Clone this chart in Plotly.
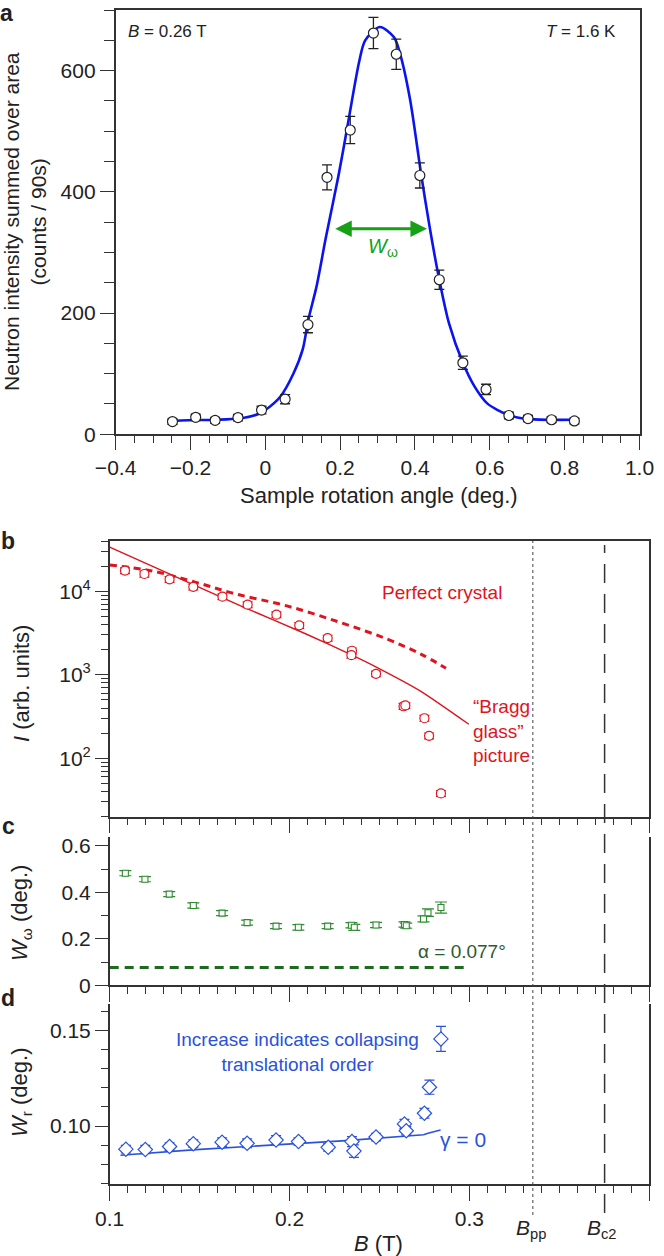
import plotly.graph_objects as go

W, H = 664, 1256
FONT = "Liberation Sans, Arial, Helvetica, sans-serif"

# ---------------- data: panel a ----------------
angle = [-0.248, -0.186, -0.134, -0.073, -0.010, 0.053, 0.114, 0.165, 0.227, 0.289,
         0.350, 0.413, 0.465, 0.528, 0.590, 0.651, 0.702, 0.765, 0.826]
counts = [21, 28, 23, 27.5, 40, 58, 181, 424, 502, 662,
          627, 427, 255, 118, 74, 31, 26, 24, 22]
counts_err = [4.6, 5.3, 4.8, 5.2, 6.3, 7.6, 13.5, 20.6, 22.4, 25.7,
              25.0, 20.7, 16.0, 10.9, 8.6, 5.6, 5.1, 4.9, 4.7]
fit_angle = [-0.25, -0.18, -0.13, -0.07, -0.02, 0.0, 0.04, 0.075, 0.10, 0.115, 0.137,
             0.162, 0.196, 0.219, 0.251, 0.267, 0.306, 0.344, 0.361, 0.387, 0.417,
             0.440, 0.465, 0.491, 0.528, 0.559, 0.593, 0.649, 0.706, 0.83]
fit_counts = [22, 23.5, 24, 26, 33, 40, 62, 100, 140, 189, 244,
              325, 428, 506, 615, 650, 672, 655, 626, 552, 427,
              339, 255, 183, 118, 79, 51, 32, 25, 24]
fwhm_ends = [0.183, 0.432]
fwhm_level = 339
a_xticks = [-0.4, -0.2, 0, 0.2, 0.4, 0.6, 0.8, 1.0]
a_xlabels = ["\u22120.4", "\u22120.2", "0", "0.2", "0.4", "0.6", "0.8", "1.0"]
a_yticks = [0, 200, 400, 600]

# ---------------- data: panel b ----------------
B_pts = [0.1085, 0.1193, 0.1333, 0.1465, 0.1627, 0.1767, 0.1927, 0.2054, 0.2212,
         0.2347, 0.2344, 0.2481, 0.2634, 0.2644, 0.2750, 0.2776, 0.2842]
I_pts = [17700, 16100, 13900, 11300, 8630, 6920, 5250, 3910, 2754,
         1940, 1720, 1028, 420, 430, 302, 186, 38]
I_err = [1400, 1300, 1100, 900, 700, 550, 420, 310, 220,
         155, 140, 80, 34, 34, 24, 15, 3]
perfect_B = [0.1, 0.124, 0.148, 0.170, 0.198, 0.228, 0.254, 0.273, 0.287]
perfect_I = [20700, 17400, 12800, 9300, 6730, 4250, 2690, 1770, 1200]
bragg_B = [0.1, 0.1725, 0.2092, 0.2336, 0.2485, 0.2726, 0.2997]
bragg_I = [33700, 6730, 3080, 1770, 1230, 643, 256]
b_yticks = [100, 1000, 10000]
b_ylabels = ["10<sup>2</sup>", "10<sup>3</sup>", "10<sup>4</sup>"]

# ---------------- data: panel c ----------------
Wom_B = [0.1087, 0.1196, 0.1331, 0.1465, 0.1625, 0.1764, 0.1925, 0.2049, 0.2212,
         0.2344, 0.2360, 0.2481, 0.2639, 0.2649, 0.2745, 0.2770, 0.2842]
Wom = [0.483, 0.457, 0.393, 0.344, 0.311, 0.270, 0.255, 0.250, 0.255,
       0.259, 0.250, 0.260, 0.262, 0.257, 0.286, 0.313, 0.335]
Wom_err = [0.011, 0.011, 0.011, 0.011, 0.011, 0.011, 0.011, 0.012, 0.011,
           0.011, 0.013, 0.011, 0.011, 0.011, 0.013, 0.016, 0.024]
alpha_B = [0.1, 0.3]
alpha_val = [0.077, 0.077]
c_yticks = [0, 0.2, 0.4, 0.6]
c_ylabels = ["0", "0.2", "0.4", "0.6"]

# ---------------- data: panel d ----------------
Wr_B = [0.109, 0.1198, 0.1333, 0.1465, 0.1625, 0.1764, 0.1925, 0.205, 0.2215,
        0.2347, 0.2358, 0.2481, 0.2639, 0.2649, 0.275, 0.2778, 0.2842]
Wr = [0.0878, 0.0876, 0.0892, 0.0907, 0.0915, 0.0909, 0.0926, 0.0918, 0.0888,
      0.0918, 0.0868, 0.0942, 0.1011, 0.0975, 0.1067, 0.1204, 0.1458]
Wr_err = [0.0020, 0.0022, 0.0020, 0.0020, 0.0023, 0.0023, 0.0023, 0.0020, 0.0020,
          0.0026, 0.0033, 0.0020, 0.0024, 0.0022, 0.0026, 0.0037, 0.0066]
gamma_B = [0.106, 0.148, 0.2314, 0.2745, 0.2775, 0.2840]
gamma_W = [0.0846, 0.0876, 0.0923, 0.0954, 0.0963, 0.0979]
B_ticks = [0.1, 0.2, 0.3, 0.4]
B_labels = ["0.1", "0.2", "0.3", "0.4"]
d_yticks = [0.10, 0.15]
d_ylabels = ["0.10", "0.15"]
B_pp = 0.3353
B_c2 = 0.3752

# ---------------- colours ----------------
BLUE_FIT = "#0a14f0"
RED = "#e0141e"
GREEN = "#2f8a2f"
GREEN_ARROW = "#16a016"
GREEN_DARK = "#1f6a22"
GREEN_TEXT = "#2c5a2e"
BLUE = "#2a52dc"
AX = "#333333"


def fx(px):
    return px / W


def fy(py):
    return 1 - py / H


fig = go.Figure()

# panel a
fig.add_trace(go.Scatter(x=fit_angle, y=fit_counts, mode="lines",
                         line=dict(color=BLUE_FIT, width=2.6, shape="spline", smoothing=0.8),
                         xaxis="x", yaxis="y", showlegend=False, hoverinfo="skip"))
fig.add_trace(go.Scatter(x=angle, y=counts, mode="markers",
                         error_y=dict(type="data", array=counts_err, color="#222", thickness=1.3, width=5),
                         marker=dict(symbol="circle", size=10, color="white", line=dict(color="#222", width=1.2)),
                         xaxis="x", yaxis="y", showlegend=False))

# panel b
fig.add_trace(go.Scatter(x=perfect_B, y=perfect_I, mode="lines",
                         line=dict(color=RED, width=3, dash="7px,5px", shape="spline"),
                         xaxis="x2", yaxis="y2", showlegend=False))
fig.add_trace(go.Scatter(x=bragg_B, y=bragg_I, mode="lines",
                         line=dict(color=RED, width=1.4, shape="spline", smoothing=0.6),
                         xaxis="x2", yaxis="y2", showlegend=False))
fig.add_trace(go.Scatter(x=B_pts, y=I_pts, mode="markers",
                         error_y=dict(type="data", array=I_err, color=RED, thickness=1.2, width=5),
                         marker=dict(symbol="circle", size=9, color="white", line=dict(color=RED, width=1.2)),
                         xaxis="x2", yaxis="y2", showlegend=False))

# panel c
fig.add_trace(go.Scatter(x=alpha_B, y=alpha_val, mode="lines",
                         line=dict(color=GREEN_DARK, width=3, dash="9px,6px"),
                         xaxis="x3", yaxis="y3", showlegend=False))
fig.add_trace(go.Scatter(x=Wom_B, y=Wom, mode="markers",
                         error_y=dict(type="data", array=Wom_err, color=GREEN, thickness=1.2, width=6),
                         marker=dict(symbol="square", size=6, color="white", line=dict(color=GREEN, width=1.1)),
                         xaxis="x3", yaxis="y3", showlegend=False))

# panel d
fig.add_trace(go.Scatter(x=gamma_B, y=gamma_W, mode="lines",
                         line=dict(color=BLUE, width=1.6),
                         xaxis="x4", yaxis="y4", showlegend=False))
fig.add_trace(go.Scatter(x=Wr_B, y=Wr, mode="markers",
                         error_y=dict(type="data", array=Wr_err, color=BLUE, thickness=1.2, width=5),
                         marker=dict(symbol="diamond", size=11, color="white", line=dict(color=BLUE, width=1.2)),
                         xaxis="x4", yaxis="y4", showlegend=False))

common = dict(showline=True, linecolor=AX, linewidth=1.5, ticks="outside", tickcolor=AX,
              tickwidth=1.3, showgrid=False, zeroline=False, automargin=False,
              tickfont=dict(family=FONT, size=21, color="#222"))

bx = [fx(109.7), fx(649.2)]

fig.update_layout(
    template="none",
    width=W, height=H, autosize=False,
    margin=dict(l=0, r=0, t=0, b=0, pad=0),
    paper_bgcolor="white", plot_bgcolor="white",
    font=dict(family=FONT, color="#222"),
    showlegend=False,
    xaxis=dict(common, domain=[fx(115.6), fx(639.5)], anchor="y", range=[-0.4, 1.0],
               mirror=True, tickmode="array", tickvals=a_xticks, ticktext=a_xlabels, ticklen=14,
               minor=dict(dtick=0.05, ticklen=7, ticks="outside", tickcolor=AX, tickwidth=1.2)),
    yaxis=dict(common, domain=[fy(434.3), fy(10)], anchor="x", range=[0, 700],
               mirror=True, tickmode="array", tickvals=a_yticks, ticklen=14,
               minor=dict(dtick=50, ticklen=10, ticks="outside", tickcolor=AX, tickwidth=1.2)),
    xaxis2=dict(common, domain=bx, anchor="y2", range=[0.1, 0.4], mirror=True,
                showticklabels=False, tickmode="array", tickvals=B_ticks, ticklen=15,
                minor=dict(dtick=0.01, ticklen=7, ticks="outside", tickcolor=AX, tickwidth=1.2)),
    yaxis2=dict(common, domain=[fy(816.7), fy(541)], anchor="x2", type="log",
                range=[1.30103, 4.60206], mirror=True, tickmode="array", tickvals=b_yticks,
                ticktext=b_ylabels, ticklen=13,
                minor=dict(dtick="D1", ticklen=7, ticks="outside", tickcolor=AX, tickwidth=1.2)),
    xaxis3=dict(common, domain=bx, anchor="y3", range=[0.1, 0.4],
                showticklabels=False, tickmode="array", tickvals=B_ticks, ticklen=15,
                minor=dict(dtick=0.01, ticklen=7, ticks="outside", tickcolor=AX, tickwidth=1.2)),
    yaxis3=dict(common, domain=[fy(985.4), fy(836.7)], anchor="x3", range=[0, 0.64],
                mirror=True, tickmode="array", tickvals=c_yticks, ticktext=c_ylabels, ticklen=13,
                minor=dict(dtick=0.1, ticklen=7, ticks="outside", tickcolor=AX, tickwidth=1.2)),
    xaxis4=dict(common, domain=bx, anchor="y4", range=[0.1, 0.4],
                tickmode="array", tickvals=B_ticks, ticktext=B_labels, ticklen=15,
                minor=dict(dtick=0.01, ticklen=7, ticks="outside", tickcolor=AX, tickwidth=1.2)),
    yaxis4=dict(common, domain=[fy(1184), fy(1004.3)], anchor="x4", range=[0.0695, 0.164],
                mirror=True, tickmode="array", tickvals=d_yticks, ticktext=d_ylabels, ticklen=13,
                minor=dict(dtick=0.01, ticklen=7, ticks="outside", tickcolor=AX, tickwidth=1.2)),
)

# vertical reference lines across panels b-d
fig.add_shape(type="line", xref="x4", yref="paper", x0=B_pp, x1=B_pp, y0=fy(1215), y1=fy(541),
              line=dict(color="#444", width=1, dash="dot"))
fig.add_shape(type="line", xref="x4", yref="paper", x0=B_c2, x1=B_c2, y0=fy(1213), y1=fy(545),
              line=dict(color="#333", width=1.5, dash="19px,11px"))

ann = []


def txt(px, py, s, size, color="#222", xanchor="center", angle=0, align="center"):
    ann.append(dict(x=fx(px), y=fy(py), xref="paper", yref="paper", text=s, showarrow=False,
                    xanchor=xanchor, yanchor="middle", textangle=angle, align=align,
                    font=dict(family=FONT, size=size, color=color)))


# panel labels
txt(7, 13, "<b>a</b>", 23, xanchor="center")
txt(8, 541, "<b>b</b>", 23)
txt(8, 826, "<b>c</b>", 23)
txt(8, 998, "<b>d</b>", 23)

# panel a texts
txt(126, 32, "<i>B</i> = 0.26 T", 17, xanchor="left")
txt(618, 32, "<i>T</i> = 1.6 K", 17, xanchor="right")
txt(383, 247, "<i>W</i><sub>\u03c9</sub>", 20, color=GREEN_ARROW)
txt(25, 222, "Neutron intensity summed over area<br>(counts / 90s)", 21, angle=-90)
txt(379, 495, "Sample rotation angle (deg.)", 22)

# FWHM arrow (double headed)
ann.append(dict(x=fwhm_ends[1], y=fwhm_level, ax=fwhm_ends[0], ay=fwhm_level,
                xref="x", yref="y", axref="x", ayref="y", text="", showarrow=True,
                arrowhead=2, startarrowhead=2, arrowside="end+start", arrowsize=1.1,
                startarrowsize=1.1, arrowwidth=3, arrowcolor=GREEN_ARROW))

# panel b texts
txt(442, 592, "Perfect crystal", 19, color=RED)
txt(471, 731, "\u201cBragg<br>glass\u201d<br>picture", 19, color=RED, xanchor="left", align="left")
txt(21, 684, "<i>I</i> (arb. units)", 22, angle=-90)

# panel c texts
txt(462, 951, "\u03b1 = 0.077\u00b0", 19, color=GREEN_TEXT)
txt(21, 913, "<i>W</i><sub>\u03c9</sub> (deg.)", 22, angle=-90)

# panel d texts
txt(297, 1052, "Increase indicates collapsing<br>translational order", 19, color=BLUE)
txt(463, 1139, "\u03b3 = 0", 21, color=BLUE)
txt(21, 1092, "<i>W</i><sub>r</sub> (deg.)", 22, angle=-90)

# bottom labels
txt(378, 1243, "<i>B</i> (T)", 22)
txt(531, 1229, "<i>B</i><sub>pp</sub>", 21)
txt(602, 1229, "<i>B</i><sub>c2</sub>", 21)

fig.update_layout(annotations=ann)
fig.write_html("out.html", config={"displayModeBar": False},
               post_script="document.body.style.margin='0px';document.body.style.padding='0px';")
